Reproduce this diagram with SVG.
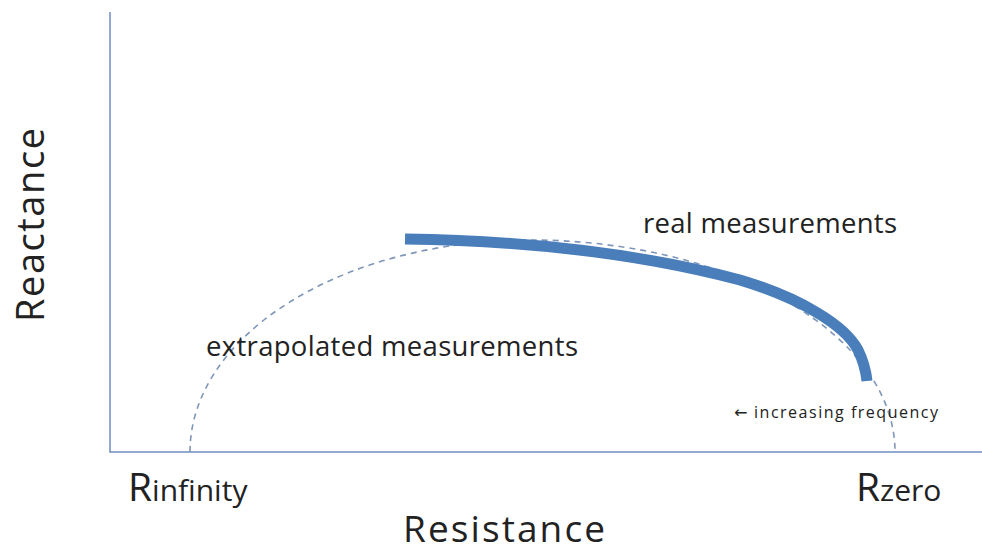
<svg xmlns="http://www.w3.org/2000/svg" width="982" height="553" viewBox="0 0 982 553">
<style>
.t{font-family:"Open Sans","Liberation Sans",sans-serif;fill:#222}
.axis{stroke:#6f8fc0;stroke-width:1.5;fill:none}
</style>
<rect width="982" height="553" fill="#fff"/>
<g id="axes">
<path class="axis" d="M110,12 V452 H982"/>
</g>
<g id="connectors">
<path id="extrapolated" d="M190,452 A340,212 0 0 1 530,240 A365,212 0 0 1 895,452" fill="none" stroke="#7f96b8" stroke-width="1.6" stroke-dasharray="6,5"/>
<path id="real" d="M405,239 C540,241 650,256 740,280 C800,298 845,325 858,350 C864,362 866,372 867,381" fill="none" stroke="#4a7ebb" stroke-width="11"/>
</g>
<g id="labels">
<text class="t" transform="translate(44,225) rotate(-90)" text-anchor="middle" font-size="38" textLength="194">Reactance</text>
<text class="t" x="504" y="542" text-anchor="middle" font-size="37" textLength="202">Resistance</text>
<text class="t" x="128" y="501" font-size="39">R<tspan font-size="30">infinity</tspan></text>
<text class="t" x="856" y="501" font-size="39">R<tspan font-size="30">zero</tspan></text>
<text class="t" x="643" y="233" font-size="27.5" textLength="254">real measurements</text>
<text class="t" x="206" y="356" font-size="27.5" textLength="372">extrapolated measurements</text>
<text class="t" x="734" y="418" font-size="16"><tspan font-family="DejaVu Sans, sans-serif">←</tspan><tspan x="754" textLength="184">increasing frequency</tspan></text>
</g>
</svg>
